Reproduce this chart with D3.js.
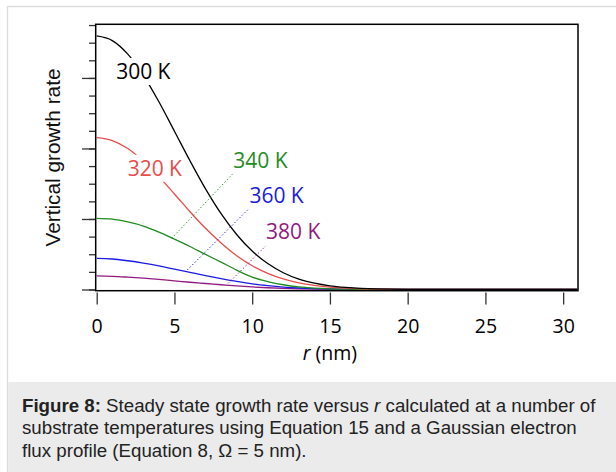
<!DOCTYPE html>
<html>
<head>
<meta charset="utf-8">
<script src="https://cdn.jsdelivr.net/npm/d3@7"></script>
<style>
  html, body { margin: 0; padding: 0; background: #fff; }
  svg { display: block; }
</style>
</head>
<body>
<svg id="chart" width="616" height="472"></svg>
<script>
// ---- data ----
const rValues = [0,1,2,3,4,5,6,7,8,9,10,11,12,13,14,15,16,17,18,20,24,30.9];
const rate300 = [14.38,14.12,13.35,12.15,10.65,8.98,7.30,5.71,4.30,3.12,2.18,1.47,0.95,0.59,0.36,0.21,0.12,0.06,0.03,0.01,0,0];
const rate320 = [8.61,8.45,8.00,7.28,6.40,5.42,4.41,3.47,2.64,1.92,1.35,0.92,0.60,0.38,0.23,0.13,0.075,0.04,0.02,0.005,0,0];
const rate340 = [4.04,3.99,3.83,3.60,3.26,2.86,2.44,1.99,1.55,1.10,0.70,0.45,0.27,0.15,0.08,0.04,0.02,0.01,0.005,0,0,0];
const rate360 = [1.76,1.73,1.63,1.50,1.34,1.15,0.97,0.79,0.62,0.46,0.32,0.22,0.14,0.085,0.05,0.03,0.015,0.008,0.004,0,0,0];
const rate380 = [0.77,0.75,0.70,0.64,0.57,0.49,0.41,0.34,0.27,0.20,0.145,0.10,0.065,0.04,0.025,0.015,0.009,0.005,0.003,0,0,0];

const seriesNames = ["300 K","320 K","340 K","360 K","380 K"];
const seriesColors = ["#000000","#e84c4c","#1e8c1e","#1c1ce0","#901a80"];
// label anchor (r, rate) of text baseline-left
const labelR    = [1.25, 1.99, 8.79, 9.82, 10.89];
const labelRate = [11.94, 6.45, 6.91, 4.89, 2.85];
const labelKnockout = [true, true, false, false, false];
// dotted leaders (r0, rate0) -> (r1, rate1); null for none
const leaderR0    = [null, null, 4.82, 5.83, 8.46];
const leaderRate0 = [null, null, 2.90, 1.11, 0.35];
const leaderR1    = [null, null, 8.78, 9.75, 10.87];
const leaderRate1 = [null, null, 6.59, 4.55, 2.47];

const xTicks = [0,5,10,15,20,25,30];
const yMinorTicks = d3.range(0, 16);
const yMajorTicks = [0,4,8,12];

const captionLines = [
  [{t:"Figure 8:", b:true}, {t:" Steady state growth rate versus "}, {t:"r", i:true}, {t:" calculated at a number of"}],
  [{t:"substrate temperatures using Equation 15 and a Gaussian electron"}],
  [{t:"flux profile (Equation 8, \u03A9 = 5 nm)."}]
];

// ---- drawing ----
const svg = d3.select("#chart");
const W = 616, H = 472;

// card border and caption background
svg.append("rect").attr("x",0).attr("y",0).attr("width",W).attr("height",H).attr("fill","#fff");
svg.append("line").attr("x1",7).attr("x2",W).attr("y1",6.5).attr("y2",6.5).attr("stroke","#dddddd").attr("stroke-width",1.3);
svg.append("line").attr("x1",7.5).attr("x2",7.5).attr("y1",6).attr("y2",H).attr("stroke","#dddddd").attr("stroke-width",1.3);
svg.append("rect").attr("x",8.2).attr("y",382).attr("width",W-8.2).attr("height",H-382).attr("fill","#ebebeb");

const x = d3.scaleLinear().domain([0, 31]).range([96.7, 578.7]);
const y = d3.scaleLinear().domain([0, 15]).range([289.5, 25.05]);

const frame = {x0: 95.7, x1: 578, y0: 24.3, y1: 290.7};

svg.append("clipPath").attr("id","plotclip").append("rect")
  .attr("x", frame.x0).attr("y", frame.y0)
  .attr("width", frame.x1 - frame.x0).attr("height", frame.y1 - frame.y0);

const series = [rate300, rate320, rate340, rate360, rate380];
const line = d3.line().x((d,i)=>x(rValues[i])).y(d=>y(d)).curve(d3.curveMonotoneX);

const gPlot = svg.append("g").attr("clip-path","url(#plotclip)");
for (let s = series.length - 1; s >= 0; s--) {
  gPlot.append("path").datum(series[s])
    .attr("d", line)
    .attr("fill","none")
    .attr("stroke", seriesColors[s])
    .attr("stroke-width", 1.3);
}

// leaders
seriesNames.forEach((n, i) => {
  if (leaderR0[i] === null) return;
  gPlot.append("line")
    .attr("x1", x(leaderR0[i])).attr("y1", y(leaderRate0[i]))
    .attr("x2", x(leaderR1[i])).attr("y2", y(leaderRate1[i]))
    .attr("stroke", seriesColors[i]).attr("stroke-width", 1)
    .attr("stroke-dasharray", "1.3,2.2");
});

// labels
seriesNames.forEach((n, i) => {
  const g = gPlot.append("g");
  const t = g.append("text")
    .attr("x", x(labelR[i])).attr("y", y(labelRate[i]))
    .attr("fill", seriesColors[i])
    .attr("font-family", "'Open Sans', sans-serif")
    .attr("font-size", 21)
    .text(n);
  if (labelKnockout[i]) {
    const bb = t.node().getBBox();
    g.insert("rect", "text")
      .attr("x", bb.x - 3).attr("y", bb.y + 1)
      .attr("width", bb.width + 6).attr("height", bb.height - 1)
      .attr("fill", "#fff");
  }
});

// frame
svg.append("rect")
  .attr("x", frame.x0).attr("y", frame.y0)
  .attr("width", frame.x1 - frame.x0).attr("height", frame.y1 - frame.y0)
  .attr("fill","none").attr("stroke","#000").attr("stroke-width",1.5);

// x axis
const xAxis = svg.append("g").attr("transform","translate(0,292.5)")
  .call(d3.axisBottom(x).tickValues(xTicks).tickSize(12).tickFormat(d3.format("d")));
xAxis.select(".domain").remove();
xAxis.selectAll(".tick line").attr("stroke","#333").attr("stroke-width",1.3);
xAxis.selectAll(".tick text")
  .attr("y", 40.2).attr("dy", 0)
  .attr("fill","#000")
  .attr("font-family","'Open Sans', sans-serif")
  .attr("font-size", 19.5);

// y axis minor + major
const yAxisMinor = svg.append("g").attr("transform","translate(95,0)")
  .call(d3.axisLeft(y).tickValues(yMinorTicks).tickSize(6).tickFormat(""));
yAxisMinor.select(".domain").remove();
yAxisMinor.selectAll(".tick line").attr("stroke","#333").attr("stroke-width",1.3);
const yAxisMajor = svg.append("g").attr("transform","translate(95,0)")
  .call(d3.axisLeft(y).tickValues(yMajorTicks).tickSize(13).tickFormat(""));
yAxisMajor.select(".domain").remove();
yAxisMajor.selectAll(".tick line").attr("stroke","#333").attr("stroke-width",1.3);

// axis titles
const xt = svg.append("text")
  .attr("x", (x(0) + x(30)) / 2).attr("y", 359.5)
  .attr("text-anchor","middle")
  .attr("font-family","'Open Sans', sans-serif")
  .attr("font-size", 19.5)
  .attr("fill","#000");
xt.append("tspan").attr("font-style","italic").text("r");
xt.append("tspan").text(" (nm)");

svg.append("text")
  .attr("transform","translate(59.5,157.5) rotate(-90)")
  .attr("text-anchor","middle")
  .attr("font-family","'Liberation Sans', Arial, sans-serif")
  .attr("font-size", 20.8)
  .attr("fill","#111")
  .text("Vertical growth rate");

// caption
const cap = svg.append("g")
  .attr("font-family","'Liberation Sans', Arial, sans-serif")
  .attr("font-size", 18.7)
  .attr("fill","#222");
captionLines.forEach((ln, i) => {
  const t = cap.append("text").attr("x", 22).attr("y", 411.5 + i * 22.5);
  ln.forEach(seg => {
    const sp = t.append("tspan").text(seg.t);
    if (seg.b) sp.attr("font-weight","bold");
    if (seg.i) sp.attr("font-style","italic");
  });
});
</script>
</body>
</html>
